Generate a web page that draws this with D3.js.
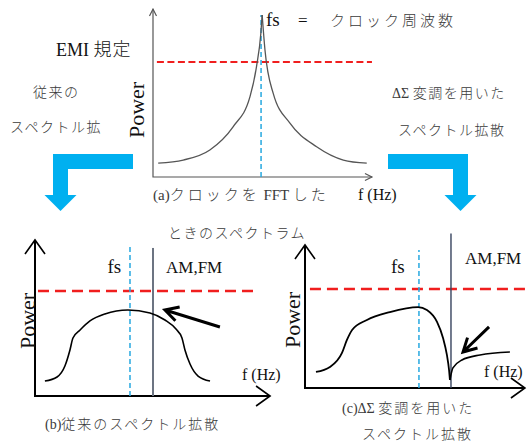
<!DOCTYPE html>
<html>
<head>
<meta charset="utf-8">
<script src="https://cdn.jsdelivr.net/npm/d3@7"></script>
<style>
  body { margin: 0; background: #fff; }
  svg { display: block; }
</style>
</head>
<body>
<div id="chart"></div>
<script>
// ---- data (frequency / power in arbitrary 0-100 units) ----
// (a) clock spectrum, left and right flank of the peak
const clockLeft = [[2.4, 8.2], [13.9, 10.1], [26.2, 16.1], [36.9, 29.9], [44.7, 47.8], [47.7, 65.7], [49.7, 85.5], [50.3, 96.4]];
const clockRight = [[50.3, 96.4], [51.6, 75.6], [55.4, 49.8], [63.1, 32.0], [75.4, 18.0], [87.7, 10.1], [98.5, 8.2]];
// (b) conventional spread spectrum
const spreadConv = [[4.3, 9.6], [9.6, 12.2], [13.0, 19.2], [15.2, 29.5], [16.5, 37.2], [19.6, 42.3], [23.9, 48.1], [30.4, 52.6],
  [40.4, 55.1], [50.0, 53.2], [56.5, 48.7], [61.3, 42.9], [63.9, 37.2], [65.2, 29.5], [67.4, 20.5], [70.9, 12.8], [76.1, 9.6]];
// (c) delta-sigma spread spectrum, main lobe and tail after the notch
const spreadDS = [[5.1, 11.2], [11.6, 14.7], [17.2, 24.5], [19.5, 33.6], [21.9, 40.6], [28.8, 47.6], [39.5, 53.1], [52.6, 56.6],
  [56.7, 54.5], [61.4, 46.2], [64.2, 35.0], [66.0, 23.1], [67.0, 12.6], [67.4, 5.6]];
const spreadDSTail = [[67.4, 5.6], [68.8, 14.0], [73.0, 19.6], [81.4, 23.1], [95.3, 25.2]];
// levels and markers
const emiLevels = [68.5, 67.3, 69.2];          // a, b, c
const fsFreqs = [49.8, 41.3, 53.0];            // a, b, c
const amfmFreqs = [null, 51.3, 67.9];          // b, c
const arrowB = [[80.4, 44.2], [56.5, 55.1]];
const arrowC = [[85.6, 42.7], [73.5, 25.2]];

const W = 531, H = 441;
const LAT = '"Liberation Serif", "DejaVu Serif", "Noto Sans CJK JP", serif';
const svg = d3.select("#chart").append("svg").attr("width", W).attr("height", H);

const panels = [
  {key: "a", xr: [153, 370], yr: [177, 9], xEnd: 100.9, yEnd: 100, thin: true},
  {key: "b", xr: [35, 265], yr: [396, 240], xEnd: 102.2, yEnd: 100, thin: false},
  {key: "c", xr: [305, 520], yr: [388, 245], xEnd: 102.3, yEnd: 100, thin: false}
];
panels.forEach(p => {
  p.x = d3.scaleLinear().domain([0, 100]).range(p.xr);
  p.y = d3.scaleLinear().domain([0, 100]).range(p.yr);
  p.line = d3.line().x(d => p.x(d[0])).y(d => p.y(d[1])).curve(d3.curveMonotoneX);
});
const [pa, pb, pc] = panels;

// axes with open arrow heads
function drawAxes(p) {
  const g = svg.append("g");
  const col = p.thin ? "#555" : "#000";
  const sw = p.thin ? 1.2 : 2;
  const ax = p.thin ? 3.5 : 10, al = p.thin ? 7 : 14;
  const x0 = p.x(0), y0 = p.y(0), xe = p.x(p.xEnd), ye = p.y(p.yEnd);
  g.append("path")
    .attr("d", `M${x0},${ye}V${y0}H${xe}`)
    .attr("fill", "none").attr("stroke", col).attr("stroke-width", sw);
  g.append("path")
    .attr("d", `M${x0 - ax},${ye + al}L${x0},${ye}L${x0 + ax},${ye + al}M${xe - al},${y0 - ax}L${xe},${y0}L${xe - al},${y0 + ax}`)
    .attr("fill", "none").attr("stroke", col).attr("stroke-width", p.thin ? 1.2 : 1.6);
}
panels.forEach(drawAxes);

// EMI limit lines
const emiExtent = [[1.8, 100.9], [1.3, 95.7], [2.3, 104.7]];
panels.forEach((p, i) => {
  svg.append("line")
    .attr("x1", p.x(emiExtent[i][0])).attr("x2", p.x(emiExtent[i][1]))
    .attr("y1", p.y(emiLevels[i])).attr("y2", p.y(emiLevels[i]))
    .attr("stroke", "#f01e1e")
    .attr("stroke-width", p.thin ? 2 : 2.6)
    .attr("stroke-dasharray", p.thin ? "7,3.5" : "11,6");
});

// fs markers
const fsTop = [96.4, 95.5, 96.5];
panels.forEach((p, i) => {
  svg.append("line")
    .attr("x1", p.x(fsFreqs[i])).attr("x2", p.x(fsFreqs[i]))
    .attr("y1", p.y(0)).attr("y2", p.y(fsTop[i]))
    .attr("stroke", "#27a8e0").attr("stroke-width", 1.5)
    .attr("stroke-dasharray", "5,3");
});

// AM,FM lines
svg.append("line")
  .attr("x1", pb.x(amfmFreqs[1])).attr("x2", pb.x(amfmFreqs[1]))
  .attr("y1", pb.y(0)).attr("y2", pb.y(94.9))
  .attr("stroke", "#6c7482").attr("stroke-width", 2);
svg.append("line")
  .attr("x1", pc.x(amfmFreqs[2])).attr("x2", pc.x(amfmFreqs[2]))
  .attr("y1", pc.y(0)).attr("y2", pc.y(108))
  .attr("stroke", "#37445f").attr("stroke-width", 1.4);

// spectra
[[pa, clockLeft, "#555", 1.3], [pa, clockRight, "#555", 1.3],
 [pb, spreadConv, "#000", 1.6], [pc, spreadDS, "#000", 1.8], [pc, spreadDSTail, "#000", 1.6]]
  .forEach(([p, d, col, sw]) => {
    svg.append("path").datum(d)
      .attr("d", p.line)
      .attr("fill", "none").attr("stroke", col).attr("stroke-width", sw);
  });

// black pointer arrows
function pointer(p, d) {
  const [x1, y1] = [p.x(d[0][0]), p.y(d[0][1])];
  const [x2, y2] = [p.x(d[1][0]), p.y(d[1][1])];
  const ang = Math.atan2(y2 - y1, x2 - x1);
  const L = 15, spread = 0.5;
  const h1 = [x2 - L * Math.cos(ang - spread), y2 - L * Math.sin(ang - spread)];
  const h2 = [x2 - L * Math.cos(ang + spread), y2 - L * Math.sin(ang + spread)];
  svg.append("path")
    .attr("d", `M${x1},${y1}L${x2},${y2}M${h1}L${x2},${y2}L${h2}`)
    .attr("fill", "none").attr("stroke", "#000").attr("stroke-width", 3)
    .attr("stroke-linecap", "butt").attr("stroke-linejoin", "miter");
}
pointer(pb, arrowB);
pointer(pc, arrowC);

// big blue block arrows: horizontal bar, then a stem going down to a head
function blockArrow(barL, barR, stemL, stemR) {
  const top = 154, barB = 169, neck = 195, tip = 211, hw = 16;
  const cx = (stemL + stemR) / 2;
  const pts = stemL === barL
    ? [[barR, top], [barR, barB], [stemR, barB], [stemR, neck], [cx + hw, neck], [cx, tip], [cx - hw, neck], [stemL, neck], [stemL, top]]
    : [[barL, top], [stemR, top], [stemR, neck], [cx + hw, neck], [cx, tip], [cx - hw, neck], [stemL, neck], [stemL, barB], [barL, barB]];
  svg.append("path").attr("d", d3.line()(pts) + "Z").attr("fill", "#00b0f0");
}
blockArrow(53, 133, 53, 68);
blockArrow(388, 468, 453, 468);

// text helper: Japanese runs get letter spacing, Latin runs stay tight
const CJK = /[\u3000-\u9fff\uff00-\uffef]/;
function txt(x, y, s, size, opts = {}) {
  const t = svg.append("text").attr("x", x).attr("y", y)
    .attr("font-family", LAT)
    .attr("font-size", size)
    .attr("fill", opts.jp ? "#3a3a3a" : "#111");
  const runs = s.match(/[\u3000-\u9fff\uff00-\uffef]+|[^\u3000-\u9fff\uff00-\uffef]+/g);
  runs.forEach(r => {
    const ts = t.append("tspan").text(r);
    if (CJK.test(r)) {
      ts.attr("font-weight", 300);
      if (opts.ls) ts.attr("letter-spacing", opts.ls);
    }
  });
  if (opts.rot) t.attr("transform", `translate(${opts.rot[0]},${opts.rot[1]}) rotate(-90)`).attr("text-anchor", "middle");
  return t;
}

// panel (a) labels
txt(266, 26, "fs", 19);
txt(298, 26, "=", 17);
txt(330, 26, "クロック周波数", 15, {jp: true, ls: 3});
txt(56, 56, "EMI 規定", 18, {ls: 1});
txt(33, 97, "従来の", 14, {jp: true, ls: 1.5});
txt(10, 132, "スペクトル拡", 14, {jp: true, ls: 1.5});
txt(392, 98, "ΔΣ 変調を用いた", 14, {jp: true, ls: 1.5});
txt(398, 135, "スペクトル拡散", 14, {jp: true, ls: 1.5});
txt(0, 0, "Power", 22, {rot: [144, 110]});
txt(153, 200, "(a)クロックを FFT した", 15, {jp: true, ls: 3});
txt(358, 200, "f (Hz)", 16);
txt(168, 238, "ときのスペクトラム", 14, {jp: true, ls: 1.5});

// panel (b) labels
txt(pb.x(31.5), 273, "fs", 19);
txt(166, 273, "AM,FM", 17);
txt(0, 0, "Power", 22, {rot: [35, 321]});
txt(242, 380, "f (Hz)", 16);
txt(45, 429, "(b)従来のスペクトル拡散", 14, {jp: true, ls: 2});

// panel (c) labels
txt(pc.x(40), 273, "fs", 19);
txt(465, 264, "AM,FM", 17);
txt(0, 0, "Power", 22, {rot: [300, 320]});
txt(484, 377, "f (Hz)", 16);
txt(342, 413, "(c)ΔΣ 変調を用いた", 14, {jp: true, ls: 2});
txt(362, 439, "スペクトル拡散", 14, {jp: true, ls: 2});
</script>
</body>
</html>
